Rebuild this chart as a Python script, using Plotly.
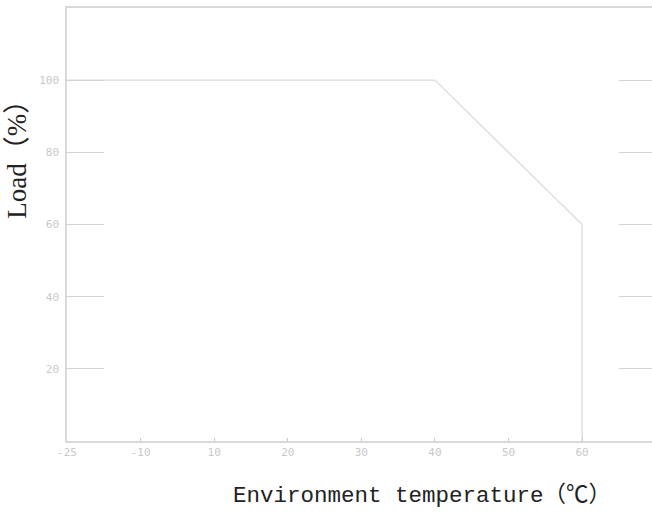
import plotly.graph_objects as go

# Derating curve data (temperature in °C, load in %)
temps = [-25, 40, 60, 60]
loads = [100, 100, 60, 0]

# Axis tick positions and labels as printed on the chart
x_tickvals = [-10, 0, 10, 20, 30, 40, 50, 60]
x_ticktext = ["-25", "-10", "10", "20", "30", "40", "50", "60"]
y_tickvals = [20, 40, 60, 80, 100]
y_ticktext = ["20", "40", "60", "80", "100"]

LINE = "#d9d9d9"
TICKFONT = dict(family="DejaVu Sans Mono", size=11, color="#c8c8c8")

fig = go.Figure()
fig.add_trace(go.Scatter(x=temps, y=loads, mode="lines",
                         line=dict(color=LINE, width=1.2),
                         showlegend=False, hoverinfo="skip"))
# invisible trace to activate the right-hand tick axis
fig.add_trace(go.Scatter(x=[0], y=[0], yaxis="y2", mode="markers",
                         marker=dict(opacity=0), showlegend=False, hoverinfo="skip"))

fig.update_layout(
    width=652, height=514,
    margin=dict(l=67, r=0, t=8, b=73),
    paper_bgcolor="white", plot_bgcolor="white",
    xaxis=dict(range=[-10, 69.5], tickvals=x_tickvals, ticktext=x_ticktext,
               showgrid=False, zeroline=False, showline=True, linecolor=LINE,
               linewidth=1.5, mirror=True, ticks="inside", ticklen=3,
               tickcolor="#c8c8c8", tickfont=TICKFONT),
    yaxis=dict(range=[0, 120], tickvals=y_tickvals, ticktext=y_ticktext,
               showgrid=False, zeroline=False, showline=True, linecolor=LINE,
               linewidth=1.5, ticks="inside", ticklen=37, tickcolor="#d4d4d4",
               tickwidth=1.2, tickfont=TICKFONT, ticklabelstandoff=4),
    yaxis2=dict(range=[0, 120], overlaying="y", side="right", tickvals=y_tickvals,
                showticklabels=False, showgrid=False, zeroline=False, showline=False,
                ticks="inside", ticklen=33, tickcolor="#d4d4d4", tickwidth=1.2),
    annotations=[
        dict(text="Load（%）", xref="paper", yref="paper", x=-0.086, y=0.665,
             xanchor="center", yanchor="middle",
             textangle=-90, showarrow=False,
             font=dict(family="Liberation Serif, Noto Sans CJK SC", size=27, color="#222")),
        dict(text="Environment temperature（℃）", xref="paper", yref="paper",
             x=0.607, y=-0.125, xanchor="center", yanchor="middle", showarrow=False,
             font=dict(family="Liberation Mono, Noto Sans CJK SC", size=22.5, color="#222")),
    ],
)

fig.write_html("out.html", config={"displayModeBar": False},
               post_script="document.body.style.margin='0';"
                           "document.documentElement.style.overflow='hidden';")
